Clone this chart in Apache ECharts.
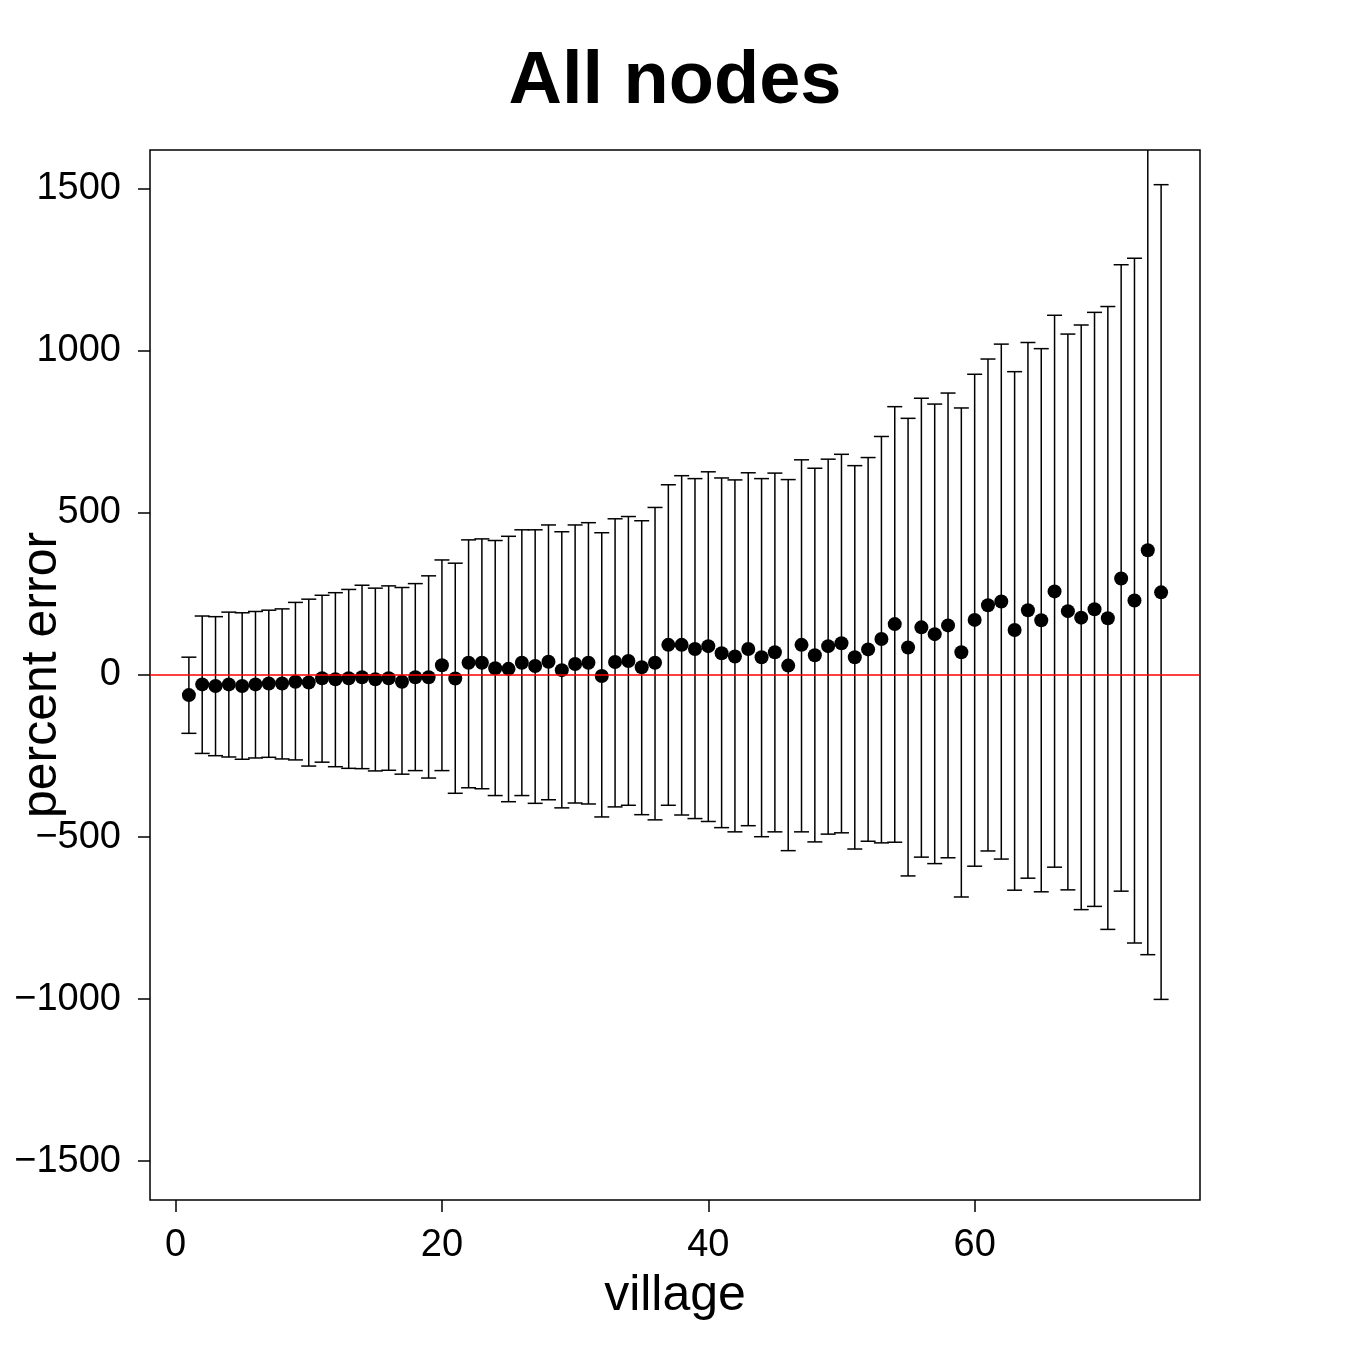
<!DOCTYPE html>
<html>
<head>
<meta charset="utf-8">
<title>All nodes</title>
<script src="https://cdn.jsdelivr.net/npm/echarts@6/dist/echarts.min.js"></script>
<style>
  html, body { margin: 0; padding: 0; background: #fff; }
  #chart { width: 1350px; height: 1350px; }
</style>
</head>
<body>
<div id="chart"></div>
<script>
var villages = [
  1, 2, 3, 4, 5, 6, 7, 8, 9, 10,
  11, 12, 13, 14, 15, 16, 17, 18, 19, 20,
  21, 22, 23, 24, 25, 26, 27, 28, 29, 30,
  31, 32, 33, 34, 35, 36, 37, 38, 39, 40,
  41, 42, 43, 44, 45, 46, 47, 48, 49, 50,
  51, 52, 53, 54, 55, 56, 57, 58, 59, 60,
  61, 62, 63, 64, 65, 66, 67, 68, 69, 70,
  71, 72, 73, 74
];
var estimate = [
  -62, -29, -34, -29, -34, -29, -26, -26, -21, -23,
  -10, -13, -10, -7, -13, -10, -21, -7, -7, 30,
  -11, 38, 38, 21, 19, 38, 28, 41, 15, 34,
  38, -3, 40, 43, 24, 38, 93, 93, 80, 89,
  67, 57, 80, 55, 70, 29, 93, 61, 89, 98,
  55, 79, 111, 157, 85, 147, 126, 153, 70, 170,
  215, 227, 139, 200, 169, 258, 197, 177, 203, 175,
  298, 230, 385, 255
];
var upper = [
  55, 182, 180, 194, 192, 196, 200, 204, 224, 234,
  246, 254, 264, 277, 268, 275, 270, 282, 306, 355,
  345, 417, 420, 415, 428, 448, 448, 463, 442, 463,
  470, 439, 482, 489, 476, 517, 587, 615, 606, 627,
  608, 602, 624, 606, 623, 603, 664, 638, 666, 681,
  646, 671, 736, 828, 792, 854, 836, 870, 824, 928,
  975, 1021, 936, 1026, 1007, 1110, 1052, 1080, 1119, 1137,
  1266, 1286, 1700, 1513
];
var lower = [
  -180, -242, -249, -253, -260, -256, -254, -259, -262, -281,
  -269, -283, -288, -289, -296, -294, -306, -295, -318, -295,
  -365, -348, -351, -372, -391, -372, -396, -385, -410, -395,
  -398, -438, -407, -402, -431, -447, -402, -432, -443, -452,
  -471, -484, -465, -499, -484, -542, -484, -515, -491, -487,
  -537, -513, -518, -516, -620, -562, -582, -564, -685, -590,
  -543, -568, -664, -627, -669, -593, -663, -724, -714, -785,
  -667, -827, -863, -1001
];
var xTicks = [0, 20, 40, 60];
var yTicks = [-1500, -1000, -500, 0, 500, 1000, 1500];

var font = "'Liberation Sans', Arial, Helvetica, sans-serif";

var pointData = [];
var barData = [];
for (var i = 0; i < villages.length; i++) {
  pointData.push([villages[i], estimate[i]]);
  barData.push([villages[i], lower[i], upper[i]]);
}

var chart = echarts.init(document.getElementById("chart"), null, { renderer: "canvas" });

var option = {
  backgroundColor: "#fff",
  animation: false,
  title: {
    text: "All nodes",
    left: "center",
    top: 41,
    textStyle: {
      fontFamily: font,
      fontWeight: "bold",
      fontSize: 74,
      color: "#000"
    }
  },
  // y axis title, R style, rotated on the left margin
  graphic: [
    {
      type: "text",
      x: 42,
      y: 675,
      rotation: Math.PI / 2,
      style: {
        text: "percent error",
        fontFamily: font,
        fontSize: 50,
        fill: "#000",
        align: "center",
        verticalAlign: "middle"
      }
    }
  ],
  grid: {
    left: 150,
    top: 150,
    width: 1050,
    height: 1050,
    outerBoundsMode: "none",
    containLabel: false,
    show: true,
    borderColor: "#000",
    borderWidth: 1.5,
    backgroundColor: "transparent"
  },
  xAxis: {
    type: "value",
    min: -1.92,
    max: 76.92,
    name: "village",
    nameLocation: "middle",
    nameGap: 71,
    nameTextStyle: { fontFamily: font, fontSize: 50, color: "#000" },
    axisLine: { show: false, onZero: false },
    splitLine: { show: false },
    axisTick: {
      show: true,
      inside: false,
      length: 12,
      customValues: xTicks,
      lineStyle: { color: "#000", width: 1.5 }
    },
    axisLabel: {
      customValues: xTicks,
      margin: 27,
      fontFamily: font,
      fontSize: 38,
      color: "#000"
    }
  },
  yAxis: {
    type: "value",
    min: -1620,
    max: 1620,
    axisLine: { show: false, onZero: false },
    splitLine: { show: false },
    axisTick: {
      show: true,
      inside: false,
      length: 12,
      customValues: yTicks,
      lineStyle: { color: "#000", width: 1.5 }
    },
    axisLabel: {
      customValues: yTicks,
      margin: 29,
      fontFamily: font,
      fontSize: 38,
      color: "#000",
      formatter: function (v) {
        return String(v).replace("-", "\u2212");
      }
    }
  },
  series: [
    {
      name: "interval",
      type: "custom",
      clip: true,
      z: 2,
      data: barData,
      renderItem: function (params, api) {
        var x = api.value(0);
        var lo = api.coord([x, api.value(1)]);
        var hi = api.coord([x, api.value(2)]);
        var w = 7.5;
        var style = { stroke: "#000", lineWidth: 1.5 };
        return {
          type: "group",
          children: [
            { type: "line", shape: { x1: lo[0], y1: lo[1], x2: hi[0], y2: hi[1] }, style: style },
            { type: "line", shape: { x1: hi[0] - w, y1: hi[1], x2: hi[0] + w, y2: hi[1] }, style: style },
            { type: "line", shape: { x1: lo[0] - w, y1: lo[1], x2: lo[0] + w, y2: lo[1] }, style: style }
          ]
        };
      }
    },
    {
      name: "estimate",
      type: "scatter",
      z: 3,
      symbol: "circle",
      symbolSize: 14,
      itemStyle: { color: "#000", opacity: 1 },
      data: pointData,
      markLine: {
        silent: true,
        symbol: ["none", "none"],
        label: { show: false },
        lineStyle: { color: "#ff0000", width: 1.5, type: "solid", opacity: 1 },
        data: [{ yAxis: 0 }]
      }
    }
  ]
};

chart.setOption(option);
window.addEventListener("resize", function () {
  chart.resize();
});
</script>
</body>
</html>
